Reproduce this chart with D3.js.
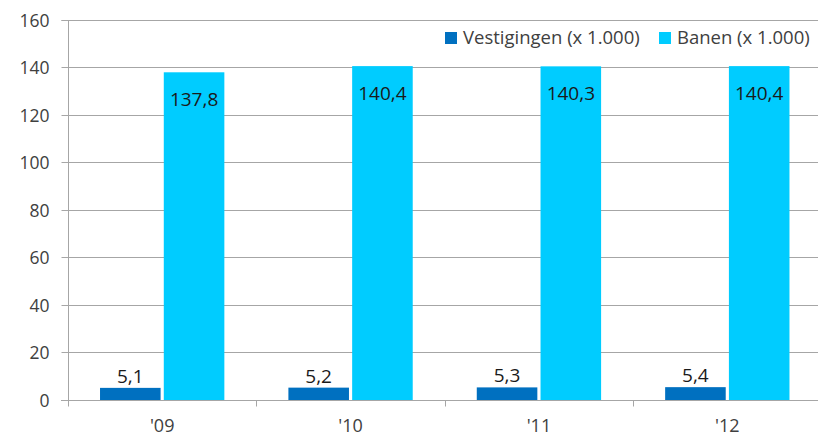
<!DOCTYPE html>
<html><head><meta charset="utf-8">
<script src="https://cdn.jsdelivr.net/npm/d3@7"></script>
<style>body{margin:0;background:#fff}svg{display:block}</style>
</head><body>
<script>
const categories = ["'09", "'10", "'11", "'12"];
const seriesNames = ["Vestigingen (x 1.000)", "Banen (x 1.000)"];
const vestigingen = [5.1, 5.2, 5.3, 5.4];
const banen = [137.8, 140.4, 140.3, 140.4];
const yTicks = [0, 20, 40, 60, 80, 100, 120, 140, 160];
const colors = ["#0070C0", "#00CCFF"];

const W = 818, H = 437;
const font = "'Open Sans', sans-serif";
const svg = d3.select("body").append("svg").attr("width", W).attr("height", H);

const x0 = d3.scaleBand().domain(categories).range([68, 821.5]).paddingInner(0).paddingOuter(0);
const x1 = d3.scaleBand().domain([0, 1]).range([x0.bandwidth() * 0.17, x0.bandwidth() * 0.83]).paddingInner(0.05);
const y = d3.scaleLinear().domain([0, 160]).range([400, 19.5]);

// gridlines
svg.append("g").selectAll("line").data(yTicks.filter(t => t > 0)).join("line")
  .attr("x1", 68).attr("x2", W).attr("y1", d => Math.round(y(d)) + 0.5).attr("y2", d => Math.round(y(d)) + 0.5)
  .attr("stroke", "#A6A6A6").attr("stroke-width", 1);

// y axis
const yAxis = svg.append("g").attr("transform", "translate(68.5,0)")
  .call(d3.axisLeft(y).tickValues(yTicks).tickSize(7).tickPadding(12).tickFormat(d3.format("d")));
yAxis.select(".domain").attr("stroke", "#A6A6A6").attr("d", `M-7,${Math.round(y(160))+0.5}H0V400.5`);
yAxis.selectAll(".tick line").attr("stroke", "#A6A6A6");
yAxis.selectAll(".tick").attr("transform", d => `translate(0,${Math.round(y(d)) + 0.5})`);
yAxis.selectAll("text").attr("font-family", font).attr("font-size", 17.5).attr("fill", "#404040").attr("dy", "0.36em");

// bars
const data = categories.map((c, i) => ({c, vals: [vestigingen[i], banen[i]]}));
const groups = svg.append("g").selectAll("g").data(data).join("g")
  .attr("transform", d => `translate(${x0(d.c)},0)`);
groups.selectAll("rect").data(d => d.vals.map((v, k) => ({v, k}))).join("rect")
  .attr("x", d => x1(d.k)).attr("width", x1.bandwidth())
  .attr("y", d => y(d.v)).attr("height", d => y(0) - y(d.v))
  .attr("fill", d => colors[d.k]);
groups.selectAll("text.val").data(d => d.vals.map((v, k) => ({v, k}))).join("text")
  .attr("class", "val")
  .attr("x", d => x1(d.k) + x1.bandwidth() / 2)
  .attr("y", d => d.k === 0 ? y(d.v) - 5 : y(d.v) + 34)
  .attr("text-anchor", "middle").attr("font-family", font).attr("font-size", 19)
  .attr("fill", "#1a1a1a")
  .text(d => d3.format(".1f")(d.v).replace(".", ","));

// x axis
const xAxis = svg.append("g").attr("transform", "translate(0,400.5)");
xAxis.append("line").attr("x1", 61).attr("x2", W).attr("stroke", "#A6A6A6");
xAxis.selectAll("line.tk").data(categories).join("line").attr("class", "tk")
  .attr("x1", d => Math.round(x0(d)) + 0.5).attr("x2", d => Math.round(x0(d)) + 0.5)
  .attr("y1", 0).attr("y2", 6).attr("stroke", "#A6A6A6");
xAxis.selectAll("text").data(categories).join("text")
  .attr("x", d => x0(d) + x0.bandwidth() / 2).attr("y", 31.5)
  .attr("text-anchor", "middle").attr("font-family", font).attr("font-size", 18).attr("fill", "#404040")
  .text(d => d);

// legend
const leg = svg.append("g");
const items = [{x: 445, name: seriesNames[0], c: colors[0]}, {x: 659, name: seriesNames[1], c: colors[1]}];
items.forEach(it => {
  leg.append("rect").attr("x", it.x).attr("y", 32).attr("width", 12).attr("height", 12).attr("fill", it.c);
  leg.append("text").attr("x", it.x + 18).attr("y", 44).attr("font-family", font).attr("font-size", 18.5)
    .attr("fill", "#404040").text(it.name);
});
</script>
</body></html>
